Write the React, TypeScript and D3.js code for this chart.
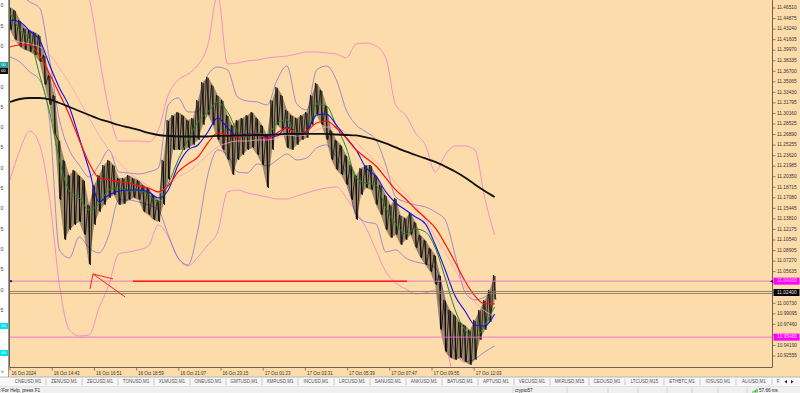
import React, { useEffect, useRef } from "react";
import * as d3 from "d3";

// ---------- time axis (minutes after 16 Oct 2024 12:35) ----------
const timeLabels = [
  "16 Oct 2024", "16 Oct 14:43", "16 Oct 16:51", "16 Oct 18:59", "16 Oct 21:07", "16 Oct 23:15",
  "17 Oct 01:23", "17 Oct 03:31", "17 Oct 05:39", "17 Oct 07:47", "17 Oct 09:55", "17 Oct 12:03",
];
const timeLabelStep = 128;
const maStep = 30;
const barStep = 15;

// ---------- price bars (every 15 minutes: high / low) ----------
const priceHigh = [
  11.4666, 11.4620, 11.4465, 11.4341, 11.4310, 11.4279, 11.4233, 11.3922, 11.3612, 11.3302,
  11.2605, 11.2295, 11.2062, 11.2140, 11.2062, 11.1985, 11.1598, 11.1908, 11.2062, 11.2217,
  11.2295, 11.2217, 11.2016, 11.2016, 11.2062, 11.2016, 11.1985, 11.1908, 11.1861, 11.1752,
  11.1675, 11.2295, 11.2915, 11.2992, 11.3039, 11.2992, 11.2915, 11.2946, 11.3225, 11.3504,
  11.3582, 11.3458, 11.3302, 11.3225, 11.2992, 11.2837, 11.2915, 11.2946, 11.2992, 11.3039,
  11.2946, 11.2837, 11.2682, 11.3225, 11.3427, 11.3302, 11.3070, 11.2992, 11.2946, 11.2992,
  11.3039, 11.3302, 11.3489, 11.3380, 11.3147, 11.2760, 11.2605, 11.2527, 11.2372, 11.2217,
  11.2062, 11.2171, 11.2217, 11.2217, 11.2062, 11.1908, 11.1752, 11.1598, 11.1706, 11.1442,
  11.1396, 11.1474, 11.1334, 11.1133, 11.1055, 11.0931, 11.0822, 11.0512, 11.0125, 10.9970,
  10.9892, 10.9784, 10.9737, 10.9660, 10.9815, 10.9970, 11.0125, 11.0280, 11.0512,
];
const priceLow = [
  11.4310, 11.4155, 11.4046, 11.4000, 11.3969, 11.3922, 11.3814, 11.3458, 11.3147, 11.2682,
  11.1675, 11.1055, 11.1210, 11.1287, 11.1334, 11.1133, 11.0668, 11.1287, 11.1489, 11.1598,
  11.1706, 11.1752, 11.1598, 11.1613, 11.1675, 11.1706, 11.1675, 11.1489, 11.1442, 11.1365,
  11.1334, 11.1598, 11.1985, 11.2450, 11.2450, 11.2450, 11.2481, 11.2527, 11.2605, 11.2837,
  11.2992, 11.2837, 11.2605, 11.2450, 11.2295, 11.2062, 11.2295, 11.2372, 11.2450, 11.2481,
  11.2372, 11.2217, 11.1861, 11.2450, 11.2837, 11.2760, 11.2481, 11.2450, 11.2527, 11.2605,
  11.2636, 11.2837, 11.2992, 11.2837, 11.2605, 11.2295, 11.2140, 11.2062, 11.1908, 11.1675,
  11.1365, 11.1752, 11.1861, 11.1830, 11.1598, 11.1442, 11.1210, 11.1086, 11.1133, 11.0977,
  11.1055, 11.1133, 11.0931, 11.0776, 11.0668, 11.0559, 11.0357, 10.9660, 10.9319, 10.9226,
  10.9195, 10.9226, 10.9164, 10.9117, 10.9195, 10.9505, 10.9660, 10.9784, 11.0125,
];

// ---------- moving averages (every 30 minutes) ----------
const maGreen = [
  11.4573, 11.4310, 11.4155, 11.3612, 11.3039, 11.2295, 11.1814, 11.1706, 11.1520, 11.1613,
  11.1830, 11.1861, 11.1814, 11.1830, 11.1752, 11.1644, 11.1923, 11.2295, 11.2605, 11.2884,
  11.3039, 11.3194, 11.3039, 11.2744, 11.2651, 11.2713, 11.2682, 11.2868, 11.2915, 11.2713,
  11.2713, 11.3163, 11.3132, 11.2822, 11.2481, 11.2016, 11.1938, 11.1907, 11.1551, 11.1303,
  11.1148, 11.1225, 11.1179, 11.0931, 11.0466, 10.9970, 10.9660, 10.9536, 10.9737, 11.0016,
];
const maBlue = [
  11.4465, 11.4434, 11.4294, 11.4155, 11.3767, 11.3411, 11.3116, 11.2636, 11.2140, 11.1644,
  11.1752, 11.1814, 11.1830, 11.1830, 11.1799, 11.1706, 11.1830, 11.2217, 11.2450, 11.2527,
  11.2729, 11.2946, 11.2791, 11.2667, 11.2698, 11.2698, 11.2651, 11.2667, 11.2806, 11.2682,
  11.2744, 11.2992, 11.3008, 11.2837, 11.2636, 11.2450, 11.2171, 11.2047, 11.1799, 11.1628,
  11.1520, 11.1411, 11.1303, 11.0977, 11.0590, 11.0187, 10.9954, 10.9737, 10.9722, 10.9908,
];
const maRed = [
  11.4046, 11.4077, 11.4077, 11.3907, 11.3628, 11.3318, 11.2992, 11.2605, 11.2248, 11.2016,
  11.1985, 11.1954, 11.1938, 11.1892, 11.1861, 11.1799, 11.1892, 11.2109, 11.2233, 11.2341,
  11.2558, 11.2713, 11.2682, 11.2651, 11.2682, 11.2698, 11.2620, 11.2713, 11.2791, 11.2698,
  11.2744, 11.2868, 11.2899, 11.2791, 11.2636, 11.2450, 11.2326, 11.2202, 11.2016, 11.1830,
  11.1690, 11.1535, 11.1396, 11.1241, 11.0993, 11.0714, 11.0419, 11.0187, 11.0063, 11.0063,
];
const maPink = [
  11.4155, 11.4124, 11.4093, 11.4046, 11.3922, 11.3721, 11.3488, 11.3225, 11.2946, 11.2682,
  11.2450, 11.2264, 11.2109, 11.1985, 11.1892, 11.1783, 11.1907, 11.2031, 11.2109, 11.2233,
  11.2372, 11.2497, 11.2558, 11.2589, 11.2589, 11.2605, 11.2605, 11.2636, 11.2682, 11.2667,
  11.2682, 11.2760, 11.2806, 11.2791, 11.2713, 11.2574, 11.2419, 11.2264, 11.2109, 11.1938,
  11.1768, 11.1582, 11.1365, 11.1102, 11.0869, 11.0590, 11.0327, 11.0094, 10.9954, 10.9877,
];
const maBlack = [
  11.3194, 11.3240, 11.3256, 11.3256, 11.3233, 11.3178, 11.3116, 11.3054, 11.2992, 11.2930,
  11.2884, 11.2837, 11.2799, 11.2760, 11.2713, 11.2682, 11.2667, 11.2659, 11.2659, 11.2659,
  11.2659, 11.2667, 11.2667, 11.2675, 11.2675, 11.2682, 11.2682, 11.2690, 11.2698, 11.2698,
  11.2698, 11.2698, 11.2698, 11.2690, 11.2682, 11.2675, 11.2644, 11.2605, 11.2551, 11.2489,
  11.2427, 11.2372, 11.2318, 11.2264, 11.2194, 11.2117, 11.2024, 11.1915, 11.1814, 11.1721,
];

// ---------- bands (every 30 minutes) ----------
const bandInnerUp = [
  11.4930, 11.4853, 11.4744, 11.4651, 11.3845, 11.2915, 11.2450, 11.2217, 11.2031, 11.2217,
  11.2450, 11.2109, 11.2094, 11.2078, 11.2109, 11.2171, 11.3147, 11.3256, 11.3039, 11.3039,
  11.3612, 11.3736, 11.3690, 11.3271, 11.3209, 11.3194, 11.3147, 11.3535, 11.3752, 11.3163,
  11.3070, 11.3690, 11.3752, 11.3535, 11.3070, 11.2837, 11.2729, 11.2605, 11.2217, 11.1721,
  11.1644, 11.1598, 11.1566, 11.1489, 11.1365, 11.0822, 11.0249, 11.0125, 11.0172, 11.0296,
];
const bandInnerLo = [
  11.3891, 11.3814, 11.3659, 11.3535, 11.2915, 11.0900, 11.0776, 11.1102, 11.0931, 11.0854,
  11.1133, 11.1675, 11.1675, 11.1644, 11.1598, 11.1520, 11.1133, 11.0776, 11.0668, 11.1210,
  11.2062, 11.2450, 11.2372, 11.2109, 11.2094, 11.2233, 11.2202, 11.2295, 11.2388, 11.2295,
  11.2326, 11.2481, 11.2527, 11.2341, 11.2062, 11.1442, 11.1334, 11.1303, 11.0869, 11.0900,
  11.0776, 11.0714, 11.0683, 11.0621, 11.0125, 10.9319, 10.9164, 10.9211, 10.9319, 10.9412,
];
const bandOuterUp = [
  11.5240, 11.5240, 11.5240, 11.5240, 11.5240, 11.5240, 11.5240, 11.5085, 11.4806, 11.3922,
  11.3070, 11.2589, 11.2589, 11.2589, 11.2574, 11.2760, 11.3302, 11.3535, 11.3628, 11.3767,
  11.4077, 11.4853, 11.3783, 11.3798, 11.3830, 11.3845, 11.3876, 11.3892, 11.3907, 11.3938,
  11.3969, 11.3969, 11.3953, 11.3938, 11.3876, 11.4093, 11.4108, 11.4062, 11.3876, 11.3147,
  11.2992, 11.2713, 11.2527, 11.2109, 11.2372, 11.2512, 11.2512, 11.2450, 11.1706, 11.1133,
];
const bandOuterLo = [
  11.1985, 11.2450, 11.2744, 11.2527, 11.1706, 11.0357, 10.9660, 10.9567, 10.9582, 11.0001,
  11.0357, 11.0838, 11.0869, 11.0900, 11.0962, 11.1287, 11.1102, 11.0776, 11.0652, 11.0791,
  11.0977, 11.1179, 11.1799, 11.1830, 11.1783, 11.1752, 11.1721, 11.1690, 11.1690, 11.1737,
  11.1783, 11.1830, 11.1861, 11.1877, 11.1706, 11.1489, 11.1241, 11.0900, 11.0559, 11.0388,
  11.0296, 11.0218, 11.0234, 11.0280, 10.9582, 10.8730, 10.8265, 10.8265, 10.8265, 10.8265,
];

// ---------- price scale ----------
const priceTickLabels = [
  "11.46510", "11.44875", "11.43240", "11.41605", "11.39970", "11.38335", "11.36700", "11.35065",
  "11.33430", "11.31795", "11.30160", "11.28525", "11.26890", "11.25255", "11.23620", "11.21985",
  "11.20350", "11.18715", "11.17080", "11.15445", "11.13810", "11.12175", "11.10540", "11.08905",
  "11.07270", "11.05635", "11.04000", "11.02365", "11.00730", "10.99095", "10.97460", "10.95825",
  "10.94190", "10.92555",
];
const priceMin = 10.92555;
const priceMax = 11.4651;

// ---------- objects on chart ----------
const levelUpper = 11.0416;
const levelLower = 10.9548;
const bidLevel = 11.0256;
const askLevel = 11.0225;
const markerValues = [11.0416, 11.0240, 10.9548];
const markerLabels = ["11.04160", "11.02400", "10.95480"];
const trendStart = 373;
const trendEnd = 1204;
const trendPrice = 11.0414;
const arrowTail = [348.8, 11.0172];
const arrowTip = [251.8, 11.0528];
const arrowHead1 = [312.4, 11.0451];
const arrowHead2 = [242.7, 11.0296];

// ---------- other panes / bars ----------
// visible last digits of the neighbouring window's price scale (cut off at the screen edge)
const leftAxisLabels = ["0", "5", "0", "5", "0", "5", "0", "5", "0", "5", "0", "5", "0", "5", "0", "5", "0"];
const tabLabels = [
  "CNEUSD,M1", "ZENUSD,M1", "ZECUSD,M1", "TONUSD,M1", "XLMUSD,M1", "ONEUSD,M1", "GMTUSD,M1",
  "XMRUSD,M1", "INCUSD,M1", "LRCUSD,M1", "SANUSD,M1", "ANKUSD,M1", "BATUSD,M1", "APTUSD,M1",
  "VECUSD,M1", "MKRUSD,M15", "CEOUSD,M1", "LTCUSD,M15", "ETHBTC,M1", "IOSUSD,M1", "ALIUSD,M1", "F",
];
const statusTexts = ["For Help, press F1", "crypto57", "57.66 ms"];

const BG = "#fddcab";
const FONT = "'Liberation Sans', Arial, sans-serif";

export default function App() {
  const ref = useRef<SVGSVGElement>(null);

  useEffect(() => {
    const el = ref.current;
    if (!el) return;
    const svg = d3.select(el);
    svg.selectAll("*").remove();

    const x = d3.scaleLinear().domain([0, 1470]).range([10, 10 + (1470 * 42.2) / 128]);
    const y = d3.scaleLinear().domain([priceMin, priceMax]).range([356, 8]);

    // window backgrounds
    svg.append("rect").attr("width", 800).attr("height", 393).attr("fill", "#f0f0f0");
    svg.append("rect").attr("x", 9).attr("y", 0).attr("width", 791).attr("height", 377).attr("fill", BG);

    // left strip: piece of another chart's price scale
    const ls = svg.append("g");
    ls.append("rect").attr("x", 0).attr("y", 0).attr("width", 8.5).attr("height", 377).attr("fill", "#ffffff");
    const defs = svg.append("defs");
    defs.append("clipPath").attr("id", "plotclip").append("rect").attr("x", 10).attr("y", 0).attr("width", 762).attr("height", 367);
    const ly = d3.scaleLinear().domain([0, leftAxisLabels.length - 1]).range([6, 330.8]);
    leftAxisLabels.forEach((lab, k) => {
      const yy = ly(k);
      if (Math.abs(yy - 66) < 5 || Math.abs(yy - 326) < 5) return;
      ls.append("text").attr("x", 0.5).attr("y", yy).attr("dominant-baseline", "middle")
        .attr("font-family", FONT).attr("font-size", 5).attr("fill", "#333").text(lab);
    });
    const leftBoxes = [
      { yy: 65, fill: "#20a0a0" },
      { yy: 71, fill: "#101010" },
      { yy: 326, fill: "#00e0f0" },
      { yy: 353, fill: "#00e0f0" },
    ];
    leftBoxes.forEach((b) => {
      ls.append("rect").attr("x", 0).attr("y", b.yy - 3).attr("width", 8).attr("height", 6).attr("fill", b.fill);
      ls.append("text").attr("x", 1).attr("y", b.yy).attr("dominant-baseline", "middle")
        .attr("font-family", FONT).attr("font-size", 4.2).attr("fill", "#fff").text("00");
    });
    ls.append("line").attr("x1", 8.5).attr("x2", 8.5).attr("y1", 0).attr("y2", 377).attr("stroke", "#9a9a9a").attr("stroke-width", 1);
    ls.append("text").attr("x", 1).attr("y", 372.5).attr("font-family", FONT).attr("font-size", 5).attr("fill", "#555").text("»");

    const g = svg.append("g").attr("clip-path", "url(#plotclip)");

    const maLine = d3.line<number>().x((_, i) => x(i * maStep)).y((d) => y(d)).curve(d3.curveMonotoneX);

    // bands
    const drawBand = (arr: number[], color: string, w: number, op: number) =>
      g.append("path").attr("d", maLine(arr) as string).attr("fill", "none").attr("stroke", color)
        .attr("stroke-width", w).attr("opacity", op);
    drawBand(bandOuterUp, "#f57ad0", 0.9, 0.9);
    drawBand(bandOuterLo, "#f57ad0", 0.9, 0.9);
    drawBand(bandInnerUp, "#5f55d8", 0.8, 0.75);
    drawBand(bandInnerLo, "#5f55d8", 0.8, 0.75);

    // price bars
    const area = d3.area<number>().x((_, j) => x(j * barStep)).y0((_, j) => y(priceLow[j])).y1((d) => y(d));
    g.append("path").attr("d", area(priceHigh) as string).attr("fill", "#000").attr("opacity", 0.38);
    const zz: [number, number][] = [];
    priceHigh.forEach((h, j) => {
      const cx = x(j * barStep);
      zz.push([cx - 1.2, y(h)]);
      zz.push([cx + 1.2, y(priceLow[j])]);
    });
    g.append("path").attr("d", d3.line()(zz) as string).attr("fill", "none").attr("stroke", "#000").attr("stroke-width", 0.7);
    priceHigh.forEach((h, j) => {
      const cx = x(j * barStep) + 0.3;
      g.append("line").attr("x1", cx).attr("x2", cx).attr("y1", y(h) + 1).attr("y2", y(priceLow[j]) - 1)
        .attr("stroke", "#000").attr("stroke-width", 0.9);
    });

    // moving averages
    const drawMA = (arr: number[], color: string, w: number, op = 1) =>
      g.append("path").attr("d", maLine(arr) as string).attr("fill", "none").attr("stroke", color)
        .attr("stroke-width", w).attr("opacity", op);
    drawMA(maPink, "#ff9cc4", 0.9, 0.9);
    drawMA(maGreen, "#1e8c1e", 1);
    drawMA(maBlue, "#1010ee", 1.1);
    drawMA(maRed, "#ff1010", 1.2);
    drawMA(maBlack, "#111111", 1.8);

    // horizontal objects
    const hline = (v: number, color: string, w: number) =>
      g.append("line").attr("x1", 10).attr("x2", 772).attr("y1", y(v)).attr("y2", y(v)).attr("stroke", color).attr("stroke-width", w);
    hline(levelUpper, "#f06ad0", 0.9);
    hline(levelLower, "#f06ad0", 0.9);
    hline(bidLevel, "#8c7864", 0.9);
    hline(askLevel, "#8c7864", 0.9);
    g.append("line").attr("x1", x(trendStart)).attr("x2", x(trendEnd)).attr("y1", y(trendPrice)).attr("y2", y(trendPrice))
      .attr("stroke", "#ff1a1a").attr("stroke-width", 1.6);
    g.append("rect").attr("x", 10).attr("y", y(levelUpper) - 1).attr("width", 2).attr("height", 2).attr("fill", "#6a0060");

    // arrow annotation
    const ap = (p: number[]) => [x(p[0]), y(p[1])] as [number, number];
    const arrowPath = d3.line()([ap(arrowTail), ap(arrowTip)]) + " " + d3.line()([ap(arrowHead1), ap(arrowTip), ap(arrowHead2)]);
    g.append("path").attr("d", arrowPath).attr("fill", "none").attr("stroke", "#ff2020").attr("stroke-width", 1);

    // frame
    svg.append("line").attr("x1", 9.5).attr("x2", 9.5).attr("y1", 0).attr("y2", 367.5).attr("stroke", "#6e6254").attr("stroke-width", 1);
    svg.append("line").attr("x1", 9.5).attr("x2", 772.5).attr("y1", 367.5).attr("y2", 367.5).attr("stroke", "#6e6254").attr("stroke-width", 1);
    svg.append("line").attr("x1", 772.5).attr("x2", 772.5).attr("y1", 0).attr("y2", 367.5).attr("stroke", "#6e6254").attr("stroke-width", 1);

    // price axis ticks
    const ax = svg.append("g");
    priceTickLabels.forEach((lab) => {
      const v = parseFloat(lab);
      const yy = y(v);
      ax.append("line").attr("x1", 772.5).attr("x2", 775.5).attr("y1", yy).attr("y2", yy).attr("stroke", "#6e6254").attr("stroke-width", 0.8);
      if (markerValues.some((m) => Math.abs(y(m) - yy) < 5.5)) return;
      ax.append("text").attr("x", 777).attr("y", yy).attr("dominant-baseline", "middle").attr("font-family", FONT)
        .attr("font-size", 4.8).attr("fill", "#333").text(lab);
    });
    const markerFill = ["#ff00ff", "#000000", "#ff00ff"];
    markerValues.forEach((v, k) => {
      const yy = y(v);
      ax.append("rect").attr("x", 773.5).attr("y", yy - 3.5).attr("width", 26).attr("height", 7).attr("fill", markerFill[k]);
      ax.append("text").attr("x", 777).attr("y", yy).attr("dominant-baseline", "middle").attr("font-family", FONT)
        .attr("font-size", 4.8).attr("fill", k === 1 ? "#e8e8e8" : "#ffd0ff").text(markerLabels[k]);
    });
    ax.append("path").attr("d", `M770,${y(levelUpper)} l3,-1.5 v3 z`).attr("fill", "#300030");

    // time axis
    timeLabels.forEach((lab, k) => {
      const xx = x(k * timeLabelStep);
      ax.append("line").attr("x1", xx).attr("x2", xx).attr("y1", 367.5).attr("y2", 370.5).attr("stroke", "#6e6254").attr("stroke-width", 0.8);
      ax.append("text").attr("x", xx + 1.5).attr("y", 373.5).attr("dominant-baseline", "middle").attr("font-family", FONT)
        .attr("font-size", 4.5).attr("fill", "#333").text(lab);
    });

    // tab bar
    const tb = svg.append("g");
    tb.append("rect").attr("x", 0).attr("y", 377).attr("width", 800).attr("height", 9.5).attr("fill", "#f7f7f7");
    tb.append("line").attr("x1", 0).attr("x2", 800).attr("y1", 377).attr("y2", 377).attr("stroke", "#a8a8a8").attr("stroke-width", 0.8);
    let tx = 10;
    tabLabels.forEach((lab) => {
      const w = 9 + 3 * lab.length;
      tb.append("text").attr("x", tx + w / 2).attr("y", 381.7).attr("text-anchor", "middle").attr("dominant-baseline", "middle")
        .attr("font-family", FONT).attr("font-size", 4.5).attr("fill", "#505050").text(lab);
      if (lab !== "F") {
        tb.append("line").attr("x1", tx + w).attr("x2", tx + w).attr("y1", 378.5).attr("y2", 385).attr("stroke", "#b8b8b8").attr("stroke-width", 0.7);
      }
      tx += w;
    });
    tb.append("path").attr("d", "M784.5,381.7 l2.5,-1.8 v3.6 z").attr("fill", "#222");
    tb.append("path").attr("d", "M793.5,381.7 l-2.5,-1.8 v3.6 z").attr("fill", "#222");

    // status bar
    const sb = svg.append("g");
    sb.append("rect").attr("x", 0).attr("y", 386.5).attr("width", 800).attr("height", 6.5).attr("fill", "#f0f0f0");
    sb.append("line").attr("x1", 0).attr("x2", 800).attr("y1", 386.5).attr("y2", 386.5).attr("stroke", "#d8d8d8").attr("stroke-width", 0.6);
    [513, 567, 608, 638, 667, 692, 718, 747].forEach((sx) => {
      sb.append("line").attr("x1", sx).attr("x2", sx).attr("y1", 387.5).attr("y2", 393).attr("stroke", "#c8c8c8").attr("stroke-width", 0.7);
    });
    sb.append("text").attr("x", 2).attr("y", 390.3).attr("dominant-baseline", "middle").attr("font-family", FONT)
      .attr("font-size", 4.6).attr("fill", "#222").text(statusTexts[0]);
    sb.append("text").attr("x", 515).attr("y", 390.3).attr("dominant-baseline", "middle").attr("font-family", FONT)
      .attr("font-size", 4.6).attr("fill", "#222").text(statusTexts[1]);
    [0, 1, 2, 3].forEach((k) => {
      sb.append("rect").attr("x", 752 + k * 1.5).attr("y", 391.5 - k * 0.9).attr("width", 1.1).attr("height", 1 + k * 0.9).attr("fill", "#30b030");
    });
    sb.append("text").attr("x", 759).attr("y", 390.3).attr("dominant-baseline", "middle").attr("font-family", FONT)
      .attr("font-size", 4.6).attr("fill", "#222").text(statusTexts[2]);
    sb.append("path").attr("d", "M0,392 L4,388 M0,390 L2,388").attr("stroke", "#999").attr("stroke-width", 0.6);
  }, []);

  return <svg ref={ref} width={800} height={393} style={{ position: "absolute", left: 0, top: 0, display: "block" }} />;
}
